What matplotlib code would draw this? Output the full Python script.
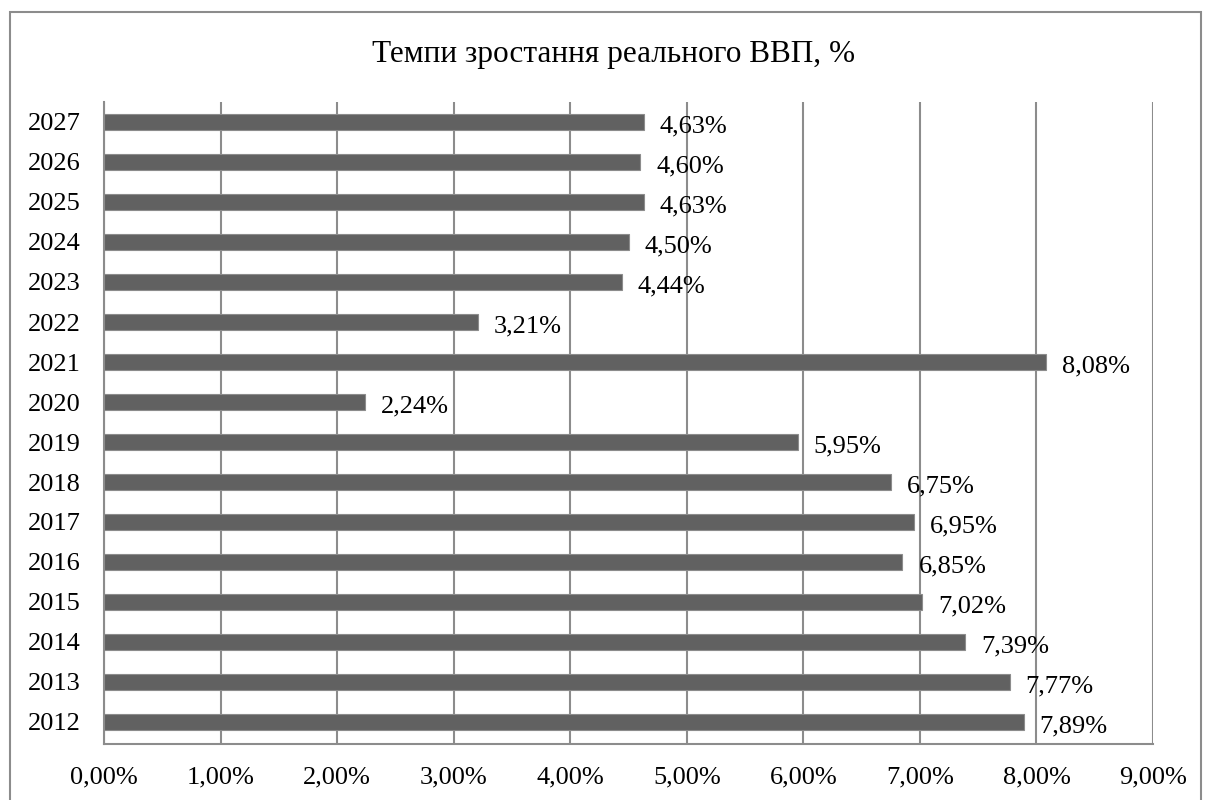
import matplotlib.pyplot as plt
from matplotlib.patches import Rectangle
from matplotlib.ticker import FixedLocator

# data
years = ['2012', '2013', '2014', '2015', '2016', '2017', '2018', '2019',
         '2020', '2021', '2022', '2023', '2024', '2025', '2026', '2027']
growth = [7.89, 7.77, 7.39, 7.02, 6.85, 6.95, 6.75, 5.95,
          2.24, 8.08, 3.21, 4.44, 4.50, 4.63, 4.60, 4.63]
x_ticks = [0, 1, 2, 3, 4, 5, 6, 7, 8, 9]

plt.rcParams['font.family'] = ['Liberation Serif', 'DejaVu Serif']

W, H = 1205, 800
fig = plt.figure(figsize=(W / 100, H / 100), dpi=100)
ax = fig.add_axes([104 / W, 1 - 744 / H, (1153 - 104) / W, (744 - 102) / H])

pos = list(range(len(years)))
ax.barh(pos, growth, height=0.4, color='#616161', edgecolor='#8c8c8c', linewidth=0.8, zorder=3)

for p, v in zip(pos, growth):
    ax.annotate(f'{v:.2f}%'.replace('.', ','), (v, p), xytext=(11.5, -3),
                textcoords='offset points', ha='left', va='center',
                fontsize=19, color='black', zorder=4)

ax.set_xlim(0, 9)
ax.set_ylim(-0.55, len(years) - 0.5)
ax.xaxis.set_major_locator(FixedLocator(x_ticks))
ax.set_xticklabels([f'{t:.2f}%'.replace('.', ',') for t in x_ticks])
ax.set_yticks(pos)
ax.set_yticklabels(years)
ax.tick_params(axis='both', length=0, labelsize=19, colors='black')
ax.tick_params(axis='x', pad=16)
ax.tick_params(axis='y', pad=17)
ax.grid(axis='x', color='#8c8c8c', linewidth=1.5, zorder=0)
for s in ['top', 'right']:
    ax.spines[s].set_visible(False)
for s in ['left', 'bottom']:
    ax.spines[s].set_color('#8c8c8c')
    ax.spines[s].set_linewidth(1.5)

fig.text(614 / W, 1 - 62 / H, 'Темпи зростання реального ВВП, %', ha='center', va='baseline',
         fontsize=22.5)

# outer chart border
fig.patches.append(Rectangle((10 / W, -0.05), (1201 - 10) / W, 1.05 - 12 / H,
                             transform=fig.transFigure, fill=False,
                             edgecolor='#8c8c8c', linewidth=1.5))

fig.savefig('out.png', dpi=100)
